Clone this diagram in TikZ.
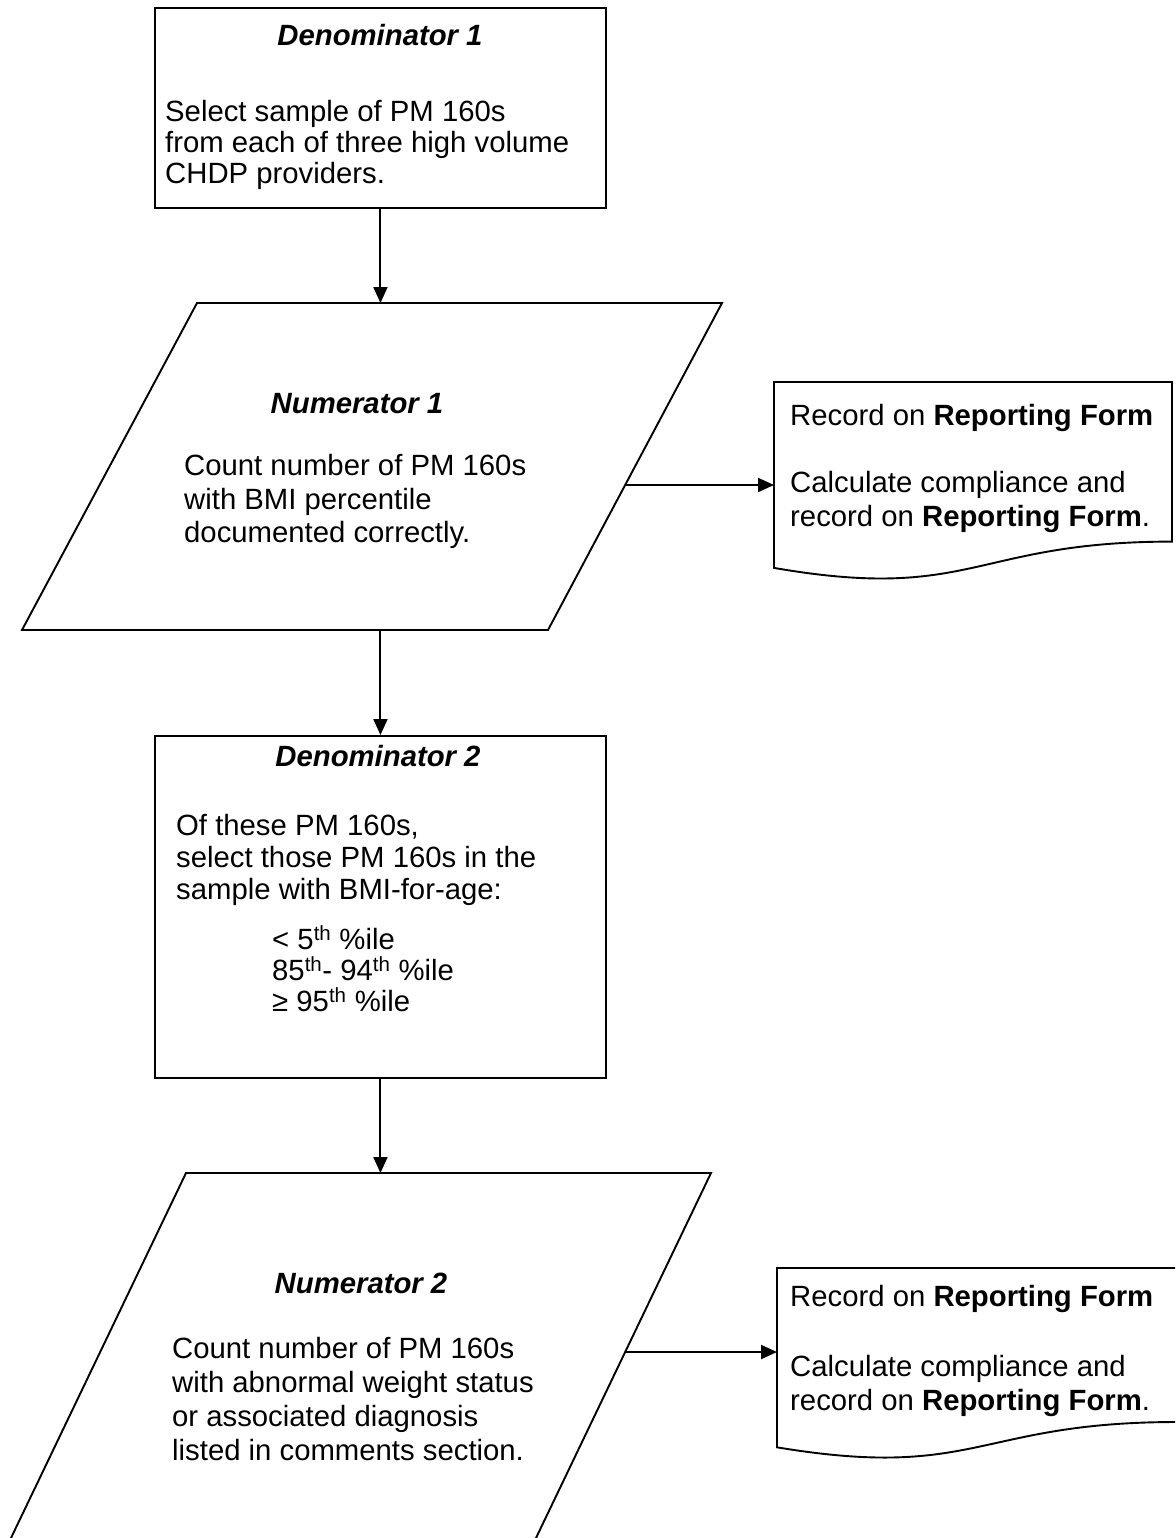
\documentclass[tikz,border=0pt]{standalone}
\usepackage{fontspec}
\setmainfont{Liberation Sans}
\usetikzlibrary{arrows.meta,calc}
\newcommand\topst{\rule{0pt}{25pt}}
\begin{document}
\begin{tikzpicture}[x=1pt,y=-1pt,
  txt/.style={inner sep=0pt, font=\fontsize{29.3}{#1}\selectfont, align=left, anchor=north west},
  ttl/.style={inner sep=0pt, font=\fontsize{29.3}{32}\selectfont\bfseries\itshape, anchor=north},
  arr/.style={-{Triangle[length=16pt,width=14pt]}, line width=2pt},
  outline/.style={draw, line width=1.9pt},
  boxnode/.style={draw, line width=1.9pt, inner sep=0pt, anchor=north west}]
\useasboundingbox (0,0) rectangle (1175,1538);
\clip (0,0) rectangle (1175,1538);

% Denominator 1
\node[boxnode, minimum width=451pt, minimum height=200pt] (den1) at (154,7) {};
\node[ttl] (den1title) at (380,20.4) {\topst Denominator 1};
\node[txt=31pt] (den1text) at (165,96.4) {\topst Select sample of PM 160s\\from each of three high volume\\CHDP providers.};

% Numerator 1 parallelogram
\coordinate (p1tl) at (197,303);
\coordinate (p1tr) at (722,303);
\coordinate (p1br) at (548,630);
\coordinate (p1bl) at (22,630);
\draw[outline] (p1tl) -- (p1tr) -- (p1br) -- (p1bl) -- cycle;
\node[ttl] (p1title) at (357,388.4) {\topst Numerator 1};
\node[txt=33.5pt] (p1text) at (184,450.4) {\topst Count number of PM 160s\\with BMI percentile\\documented correctly.};

% Document 1
\coordinate (d1tl) at (774,382);
\coordinate (d1tr) at (1172,382);
\coordinate (d1br) at (1172,541.6);
\coordinate (d1bl) at (774,567.9);
\draw[outline] (d1bl) -- (d1tl) -- (d1tr) -- (d1br)
  .. controls (973,541.6) and (973,602.4) .. (d1bl) -- cycle;
\node[txt=33.5pt] (doc1text) at (790,400.4) {\topst Record on \textbf{Reporting Form}\\[33.5pt]Calculate compliance and\\record on \textbf{Reporting Form}.};

% Denominator 2
\node[boxnode, minimum width=451pt, minimum height=342pt] (den2) at (154,735) {};
\node[ttl] (den2title) at (378,741.4) {\topst Denominator 2};
\node[txt=32pt] (den2text) at (176,810.4) {\topst Of these PM 160s,\\select those PM 160s in the\\sample with BMI-for-age:};
\node[txt=31pt] (den2list) at (272,924.4) {\topst < 5\textsuperscript{th} \%ile\\85\textsuperscript{th}- 94\textsuperscript{th} \%ile\\≥ 95\textsuperscript{th} \%ile};

% Numerator 2 parallelogram
\coordinate (p2tl) at (186,1173);
\coordinate (p2tr) at (711,1173);
\coordinate (p2br) at (524,1563);
\coordinate (p2bl) at (-1,1563);
\draw[outline] (p2tl) -- (p2tr) -- (p2br) -- (p2bl) -- cycle;
\node[ttl] (p2title) at (361,1268.4) {\topst Numerator 2};
\node[txt=34pt] (p2text) at (172,1333.4) {\topst Count number of PM 160s\\with abnormal weight status\\or associated diagnosis\\listed in comments section.};

% Document 2
\coordinate (d2tl) at (777,1268);
\coordinate (d2tr) at (1177,1268);
\coordinate (d2br) at (1177,1422);
\coordinate (d2bl) at (777,1447.3);
\draw[outline] (d2bl) -- (d2tl) -- (d2tr) -- (d2br)
  .. controls (977,1422) and (977,1480.6) .. (d2bl) -- cycle;
\node[txt=34pt] (doc2text) at (790,1281.4) {\topst Record on \textbf{Reporting Form}\\[36pt]Calculate compliance and\\record on \textbf{Reporting Form}.};

% Connectors
\coordinate (p1out) at ($(p1tr)!0.5566!(p1br)$);
\coordinate (p2out) at ($(p2tr)!0.459!(p2br)$);
\draw[arr] (den1.south) -- (den1.south |- p1tl);
\draw[arr] (p1out) -- (p1out -| d1tl);
\draw[arr] (den2.north |- p1bl) -- (den2.north);
\draw[arr] (den2.south) -- (den2.south |- p2tl);
\draw[arr] (p2out) -- (p2out -| d2tl);
\end{tikzpicture}
\end{document}
